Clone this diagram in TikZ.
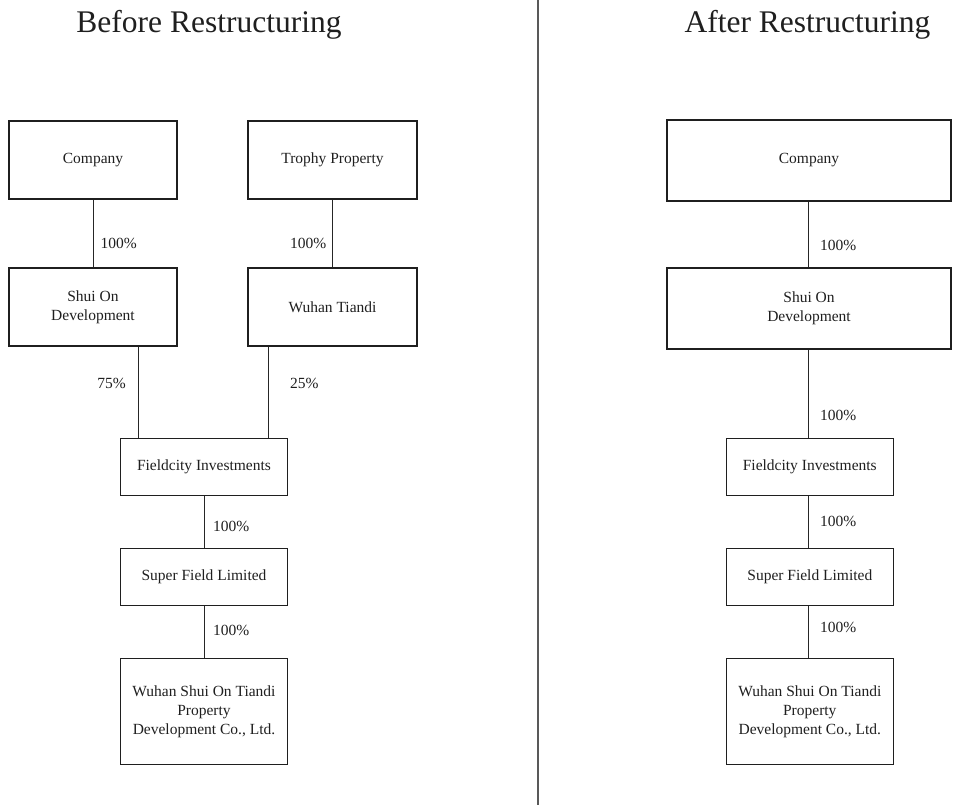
\documentclass[tikz,border=0pt]{standalone}
\usepackage{fontspec}
\setmainfont{Liberation Serif}
\begin{document}
\begin{tikzpicture}[x=1pt,y=-1pt,
  box/.style={draw=black!88,line width=1.1pt,rectangle,inner sep=0pt,align=center,font=\fontsize{15.5}{19}\selectfont,text=black!88},
  pct/.style={inner sep=0pt,font=\fontsize{15.5}{19}\selectfont,text=black!88},
  ttl/.style={inner sep=0pt,font=\fontsize{31.5}{37}\selectfont,text=black!88,anchor=base},
  conn/.style={draw=black!85,line width=0.9pt}]
\useasboundingbox (0,0) rectangle (954,805);
% titles and divider
\node[ttl] (tb) at (209,33) {Before Restructuring};
\node[ttl] (ta) at (807.5,33) {After Restructuring};
\coordinate (dtop) at (538,0);
\coordinate (dbot) at (538,805);
\draw[draw=black!65,line width=1.4pt] (dtop) -- (dbot);
% left: before
\node[box,minimum width=168pt,minimum height=78pt] (compL) at (93,160) {Company};
\node[box,minimum width=169pt,minimum height=78pt] (trophy) at (332.5,160) {Trophy Property};
\node[box,minimum width=168pt,minimum height=78pt] (shuiL) at (93,307) {Shui On\\Development};
\node[box,minimum width=169pt,minimum height=78pt] (wuhanT) at (332.5,307) {Wuhan Tiandi};
\node[box,minimum width=166.6pt,minimum height=56.6pt] (fieldL) at (204,467) {Fieldcity Investments};
\node[box,minimum width=166.6pt,minimum height=56.3pt] (superL) at (204,577) {Super Field Limited};
\node[box,minimum width=166.6pt,minimum height=106.7pt] (wuhanL) at (204,711.5) {Wuhan Shui On Tiandi\\Property\\Development Co., Ltd.};
\coordinate (x75) at (138.3,0);
\coordinate (x25) at (268.5,0);
\draw[conn] (compL.south) -- (shuiL.north);
\draw[conn] (trophy.south) -- (wuhanT.north);
\draw[conn] (shuiL.south -| x75) -- (fieldL.north -| x75);
\draw[conn] (wuhanT.south -| x25) -- (fieldL.north -| x25);
\draw[conn] (fieldL.south) -- (superL.north);
\draw[conn] (superL.south) -- (wuhanL.north);
\node[pct,anchor=west] (p1) at (100.5,243) {100\%};
\node[pct,anchor=east] (p2) at (326.5,243) {100\%};
\node[pct,anchor=east] (p3) at (126,383) {75\%};
\node[pct,anchor=west] (p4) at (290,383) {25\%};
\node[pct,anchor=west] (p5) at (213,526) {100\%};
\node[pct,anchor=west] (p6) at (213,630) {100\%};
% right: after
\node[box,minimum width=284pt,minimum height=81pt] (compR) at (809,160.5) {Company};
\node[box,minimum width=284pt,minimum height=81pt] (shuiR) at (809,308.5) {Shui On\\Development};
\node[box,minimum width=167pt,minimum height=56.6pt] (fieldR) at (809.8,467) {Fieldcity Investments};
\node[box,minimum width=167pt,minimum height=56.3pt] (superR) at (809.8,577) {Super Field Limited};
\node[box,minimum width=167pt,minimum height=106.7pt] (wuhanR) at (809.8,711.5) {Wuhan Shui On Tiandi\\Property\\Development Co., Ltd.};
\coordinate (xr) at (808,0);
\draw[conn] (compR.south -| xr) -- (shuiR.north -| xr);
\draw[conn] (shuiR.south -| xr) -- (fieldR.north -| xr);
\draw[conn] (fieldR.south -| xr) -- (superR.north -| xr);
\draw[conn] (superR.south -| xr) -- (wuhanR.north -| xr);
\node[pct,anchor=west] (q1) at (820,245) {100\%};
\node[pct,anchor=west] (q2) at (820,415) {100\%};
\node[pct,anchor=west] (q3) at (820,521) {100\%};
\node[pct,anchor=west] (q4) at (820,627) {100\%};
\end{tikzpicture}
\end{document}
